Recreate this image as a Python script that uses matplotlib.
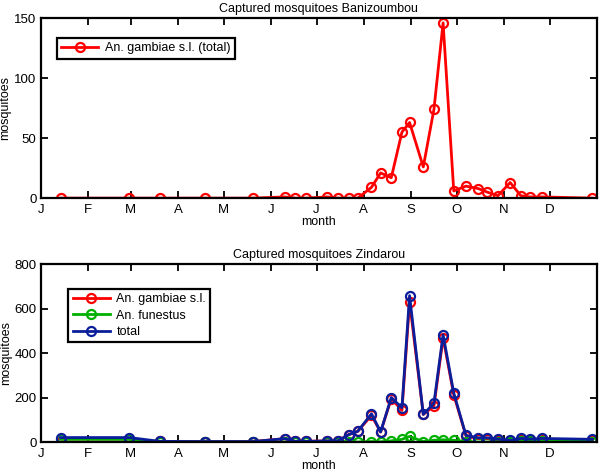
import matplotlib
matplotlib.use("Agg")
import matplotlib.pyplot as plt

plt.rcParams['font.family'] = ['Liberation Sans', 'DejaVu Sans']

month_starts = [1, 32, 60, 91, 121, 152, 182, 213, 244, 274, 305, 335]
month_labels = ['J', 'F', 'M', 'A', 'M', 'J', 'J', 'A', 'S', 'O', 'N', 'D']

# Banizoumbou (day of year, count)
days_b = [14, 59, 79, 109, 140, 161, 168, 175, 189, 196, 203, 209, 218, 224, 231,
          238, 243, 252, 259, 265, 272, 280, 288, 294, 301, 309, 316, 322, 330, 363]
gamb_b = [0, 0, 0, 0, 0, 1, 0, 0, 1, 0, 0, 0, 9, 21, 17,
          55, 63, 26, 74, 146, 6, 10, 8, 5, 2, 13, 2, 1, 1, 0]

# Zindarou
days_z = days_b
gamb_z = [0, 0, 3, 2, 2, 15, 3, 3, 5, 5, 33, 48, 120, 45, 195,
          142, 630, 124, 162, 468, 212, 28, 15, 15, 10, 5, 10, 8, 12, 8]
fun_z = [12, 12, 2, 1, 0, 0, 0, 0, 0, 0, 0, 0, 2, 1, 5,
         12, 25, 2, 8, 10, 8, 2, 0, 0, 2, 0, 5, 3, 5, 2]
total_z = [20, 20, 3, 2, 2, 15, 3, 3, 5, 5, 33, 48, 127, 45, 200,
           154, 658, 124, 174, 482, 220, 30, 19, 19, 13, 7, 16, 13, 16, 12]

fig = plt.figure(figsize=(6.0, 4.74), dpi=100)
ax1 = fig.add_axes([0.068, 0.582, 0.927, 0.380])
ax2 = fig.add_axes([0.068, 0.0675, 0.927, 0.3755])

lkw = dict(lw=2, marker='o', ms=6.5, mfc='none', mew=1.6)

ax1.plot(days_b, gamb_b, color='#ff0000', label='An. gambiae s.l. (total)', **lkw)
ax2.plot(days_z, gamb_z, color='#ff0000', label='An. gambiae s.l.', **lkw)
ax2.plot(days_z, fun_z, color='#00b000', label='An. funestus', **lkw)
ax2.plot(days_z, total_z, color='#0a1e9c', label='total', **lkw)

for ax, title, yt, ylim in [(ax1, 'Captured mosquitoes Banizoumbou', [0, 50, 100, 150], 150),
                             (ax2, 'Captured mosquitoes Zindarou', [0, 200, 400, 600, 800], 800)]:
    ax.set_xlim(1, 366)
    ax.set_ylim(0, ylim)
    ax.set_xticks(month_starts)
    ax.set_xticklabels(month_labels)
    ax.set_yticks(yt)
    ax.tick_params(direction='in', top=True, right=True, length=5, width=1.3,
                   labelsize=9.5)
    ax.tick_params(axis='y', pad=3)
    ax.tick_params(axis='x', pad=4)
    for s in ax.spines.values():
        s.set_linewidth(1.6)
    ax.set_title(title, fontsize=9, pad=4)
    ax.set_xlabel('month', fontsize=9, labelpad=0)
    ax.set_ylabel('mosquitoes', fontsize=9, labelpad=2)

leg1 = ax1.legend(loc='upper left', bbox_to_anchor=(0.017, 0.925), fontsize=9,
                  numpoints=1, handlelength=3.0, fancybox=False, framealpha=1,
                  edgecolor='black', borderpad=0.35, handletextpad=0.5)
leg1.get_frame().set_linewidth(1.6)
leg2 = ax2.legend(loc='upper left', bbox_to_anchor=(0.038, 0.895), fontsize=9,
                  numpoints=1, handlelength=3.0, fancybox=False, framealpha=1,
                  edgecolor='black', borderpad=0.35, labelspacing=0.35,
                  handletextpad=0.5)
leg2.get_frame().set_linewidth(1.6)

fig.savefig('out.png', dpi=100)
